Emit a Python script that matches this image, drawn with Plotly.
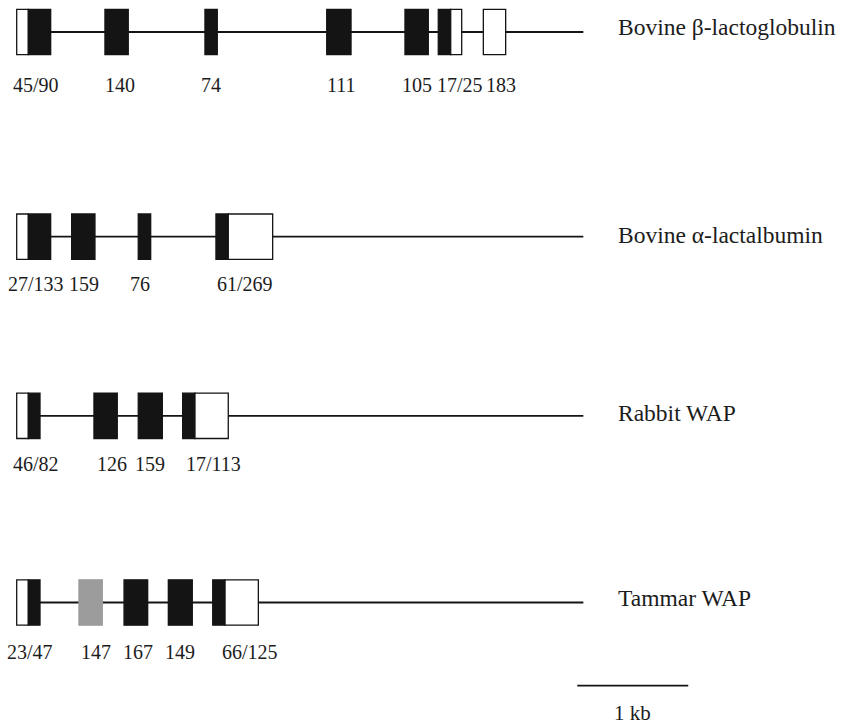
import plotly.graph_objects as go

# ---- gene structures (positions in kb from the first exon start) ----
GENE_NAMES = ["Bovine β-lactoglobulin", "Bovine α-lactalbumin", "Rabbit WAP", "Tammar WAP"]
GENE_LENGTH_KB = [5.105, 5.105, 5.105, 5.105]

# each exon is a list of segments: (kind, start_kb, end_kb)
BLG_EXONS = [
    [("utr", 0.000, 0.105), ("cds", 0.105, 0.306)],
    [("cds", 0.795, 1.005)],
    [("cds", 1.696, 1.807)],
    [("cds", 2.793, 3.012)],
    [("cds", 3.498, 3.708)],
    [("cds", 3.798, 3.910), ("utr", 3.910, 4.009)],
    [("utr", 4.204, 4.405)],
]
BLG_SIZES = ["45/90", "140", "74", "111", "105", "17/25", "183"]

LALBA_EXONS = [
    [("utr", 0.000, 0.105), ("cds", 0.105, 0.306)],
    [("cds", 0.495, 0.705)],
    [("cds", 1.095, 1.207)],
    [("cds", 1.795, 1.906), ("utr", 1.906, 2.306)],
]
LALBA_SIZES = ["27/133", "159", "76", "61/269"]

RABBIT_WAP_EXONS = [
    [("utr", 0.000, 0.105), ("cds", 0.105, 0.210)],
    [("cds", 0.696, 0.906)],
    [("cds", 1.095, 1.312)],
    [("cds", 1.495, 1.606), ("utr", 1.606, 1.906)],
]
RABBIT_WAP_SIZES = ["46/82", "126", "159", "17/113"]

TAMMAR_WAP_EXONS = [
    [("utr", 0.000, 0.105), ("cds", 0.105, 0.210)],
    [("extra", 0.561, 0.771)],
    [("cds", 0.967, 1.180)],
    [("cds", 1.366, 1.582)],
    [("cds", 1.766, 1.877), ("utr", 1.877, 2.177)],
]
TAMMAR_WAP_SIZES = ["23/47", "147", "167", "149", "66/125"]

SCALE_BAR_KB = 1.0
SCALE_BAR_LABEL = "1 kb"

GENE_EXONS = [BLG_EXONS, LALBA_EXONS, RABBIT_WAP_EXONS, TAMMAR_WAP_EXONS]
GENE_SIZES = [BLG_SIZES, LALBA_SIZES, RABBIT_WAP_SIZES, TAMMAR_WAP_SIZES]

# ---- layout / styling ----
W, H = 841, 726
PX_PER_KB = 111.0
X0_PX = 16.7                       # page x of the 0 kb position
TRACK_Y = [32.0, 236.7, 415.8, 602.5]   # vertical centre of each track
BOX_HALF = 22.7
LABEL_DY = [52.5, 47.0, 48.5, 49.5]     # exon-size label below the track
NAME_DY = [-5.0, -1.5, -2.5, -4.5]
LABEL_XSHIFT = [
    [2, 3, 0, 3, 0, 10, 6],
    [2, 1, -4, 1],
    [8, 6, 0, 8],
    [2, 5, 2, 0, 14],
]
FILL = {"cds": "#141414", "utr": "#ffffff", "extra": "#9c9c9c"}
EDGE = {"cds": "#141414", "utr": "#141414", "extra": "#9c9c9c"}
TEXT_COLOR = "#1c1c1c"
FONT = "Liberation Serif, Times New Roman, serif"
NAME_X_KB = 5.40
SCALE_X_KB = 5.05
SCALE_Y = 685.7
SCALE_LABEL_Y = 713.0

fig = go.Figure()
shapes = []
annotations = []

for g, exons in enumerate(GENE_EXONS):
    yc = TRACK_Y[g]
    # intron line spanning the whole gene
    shapes.append(dict(type="line", xref="x", yref="y", x0=0, x1=GENE_LENGTH_KB[g],
                       y0=yc, y1=yc, line=dict(color="#141414", width=1.8), layer="below"))
    for e, segs in enumerate(exons):
        for kind, s, t in segs:
            shapes.append(dict(type="rect", xref="x", yref="y", x0=s, x1=t,
                               y0=yc - BOX_HALF, y1=yc + BOX_HALF,
                               fillcolor=FILL[kind],
                               line=dict(color=EDGE[kind], width=1.3), layer="above"))
        centre = (segs[0][1] + segs[-1][2]) / 2
        annotations.append(dict(x=centre, y=yc + LABEL_DY[g], xref="x", yref="y",
                                text=GENE_SIZES[g][e], showarrow=False,
                                xshift=LABEL_XSHIFT[g][e],
                                xanchor="center", yanchor="middle",
                                font=dict(family=FONT, size=20, color=TEXT_COLOR)))
    annotations.append(dict(x=NAME_X_KB, y=yc + NAME_DY[g], xref="x", yref="y",
                            text=GENE_NAMES[g], showarrow=False,
                            xanchor="left", yanchor="middle",
                            font=dict(family=FONT, size=23.5, color=TEXT_COLOR)))

# scale bar
shapes.append(dict(type="line", xref="x", yref="y", x0=SCALE_X_KB, x1=SCALE_X_KB + SCALE_BAR_KB,
                   y0=SCALE_Y, y1=SCALE_Y, line=dict(color="#141414", width=1.8)))
annotations.append(dict(x=SCALE_X_KB + SCALE_BAR_KB / 2, y=SCALE_LABEL_Y, xref="x", yref="y",
                        text=SCALE_BAR_LABEL, showarrow=False, xanchor="center", yanchor="middle",
                        font=dict(family=FONT, size=21, color=TEXT_COLOR)))

x_min = -X0_PX / PX_PER_KB
x_max = (W - X0_PX) / PX_PER_KB

fig.update_layout(
    width=W, height=H,
    margin=dict(l=0, r=0, t=0, b=0),
    paper_bgcolor="white", plot_bgcolor="white",
    showlegend=False,
    shapes=shapes, annotations=annotations,
    xaxis=dict(range=[x_min, x_max], visible=False, fixedrange=True),
    yaxis=dict(range=[H, 0], visible=False, fixedrange=True),
)

fig.write_html("out.html")
